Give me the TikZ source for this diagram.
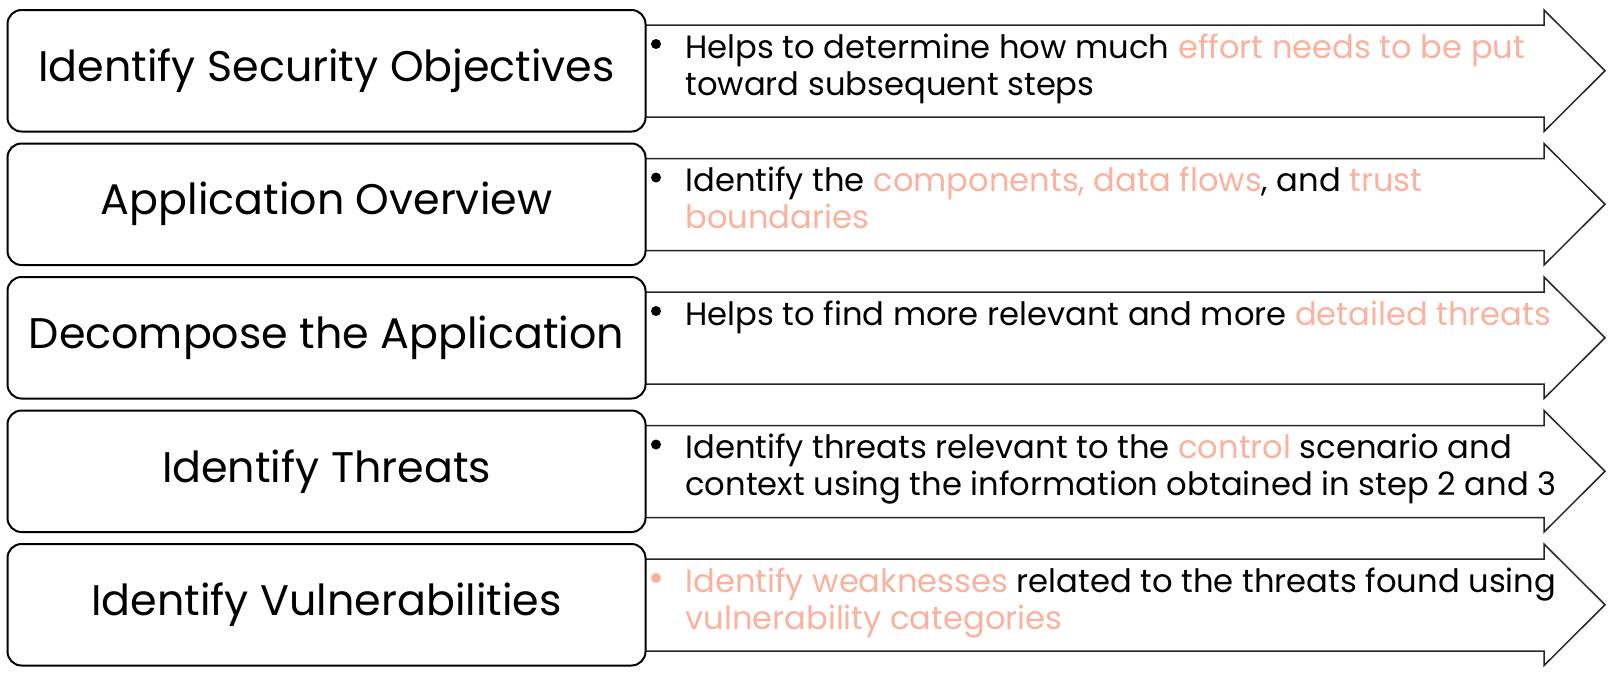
\documentclass[tikz,border=0pt]{standalone}
\usepackage{fontspec}
\setmainfont{Poppins}
\usepackage{xcolor}
\definecolor{hilite}{RGB}{250,178,158}
\newcommand{\hl}[1]{\textcolor{hilite}{#1}}
\newcommand{\steptitle}{\fontsize{21.4}{26}\selectfont}
\newcommand{\stepdescr}{\fontsize{16.1}{18.5}\selectfont}
\tikzset{%
	stepbox/.style={
		draw,
		line width=1pt,
		rounded corners=7pt,
		fill=white,
		minimum width=319pt,
		minimum height=60.75pt,
		inner sep=0pt,
		font=\steptitle
	},
	steparrow/.style={
		draw=black!85,
		line width=0.75pt,
		fill=white
	},
	descr/.style={
		anchor=base west,
		align=left,
		inner sep=0pt,
		font=\stepdescr
	},
	bulletmark/.style={
		circle,
		fill=black,
		minimum size=5pt,
		inner sep=0pt
	},
}
\begin{document}
\begin{tikzpicture}[x=0.5pt,y=-0.5pt]
			\useasboundingbox (0,0) rectangle (1612,677);
			
			% Arrows behind the boxes
			\foreach \top in {10,143.5,277,410.5,544}{
				\draw[steparrow] (640,\top+15) -- (1544,\top+15) -- (1544,\top)
					-- (1605,\top+60.75) -- (1544,\top+121.5) -- (1544,\top+107)
					-- (640,\top+107) -- cycle;
			}
			
			% Step boxes
			\node[stepbox] (s1) at (326.5,70.75) {Identify Security Objectives};
			\node[stepbox] (s2) at (326.5,204.25) {Application Overview};
			\node[stepbox] (s3) at (326.5,337.75) {Decompose the Application};
			\node[stepbox] (s4) at (326.5,471.25) {Identify Threats};
			\node[stepbox] (s5) at (326.5,604.75) {Identify Vulnerabilities};
			
			% Bullets
			\node[bulletmark] (b1) at (656,44) {};
			\node[bulletmark] (b2) at (656,177.5) {};
			\node[bulletmark] (b3) at (656,311) {};
			\node[bulletmark] (b4) at (656,444.5) {};
			\node[bulletmark, fill=hilite] (b5) at (656,578) {};
			
			% Descriptions (base = last line)
			\node[descr] (d1) at (685,95) {Helps to determine how much \hl{effort needs to be put}\\toward subsequent steps};
			\node[descr] (d2) at (685,228.5) {Identify the \hl{components, data flows}, and \hl{trust}\\\hl{boundaries}};
			\node[descr] (d3) at (685,325) {Helps to find more relevant and more \hl{detailed threats}};
			\node[descr] (d4) at (685,495.5) {Identify threats relevant to the \hl{control} scenario and\\context using the information obtained in step 2 and 3};
			\node[descr] (d5) at (685,629) {\hl{Identify weaknesses} related to the threats found using\\\hl{vulnerability categories}};
		\end{tikzpicture}
\end{document}
